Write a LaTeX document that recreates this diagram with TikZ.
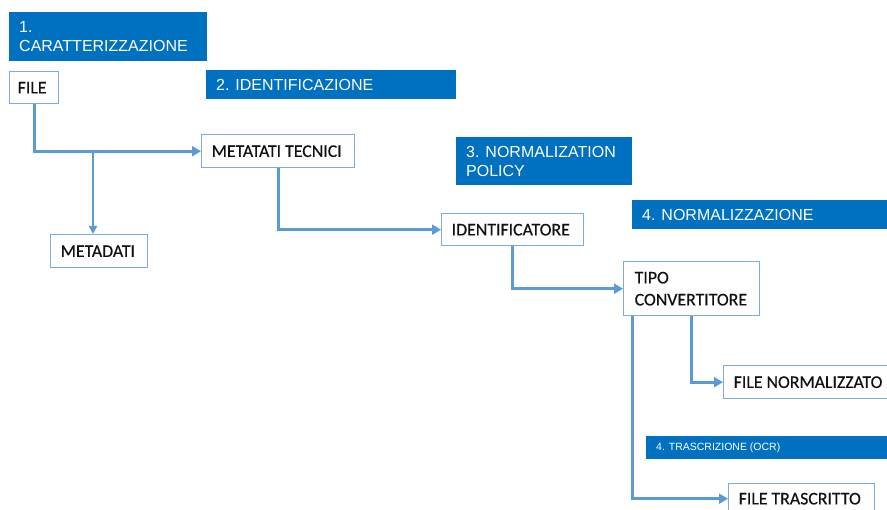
\documentclass[tikz,border=0pt]{standalone}
\usepackage{fontspec}
\setmainfont{Carlito}[FakeBold=0.4]
\newfontfamily\bannerfont{Liberation Sans}
\usetikzlibrary{arrows.meta,calc}
\definecolor{bannerblue}{HTML}{0070C0}
\definecolor{linkblue}{HTML}{5B9BD5}
\definecolor{boxblue}{HTML}{7AAEE0}
\definecolor{inkdark}{HTML}{111111}
\begin{document}
\begin{tikzpicture}[x=1pt,y=-1pt,
  banner/.style={anchor=north west, fill=bannerblue, text=white, inner xsep=10pt, inner ysep=0pt,
    align=flush left, font=\bannerfont\fontsize{16}{19}\selectfont},
  smallbanner/.style={banner, font=\bannerfont\fontsize{10.5}{12}\selectfont},
  stepbox/.style={anchor=north west, draw=boxblue, line width=1.4pt, fill=white, text=inkdark,
    inner xsep=10pt, inner ysep=0pt, align=flush left, font=\fontsize{17.8}{22}\selectfont},
  link/.style={draw=linkblue, line width=3pt, -{Triangle[length=9pt,width=10pt]}},
  thinlink/.style={draw=linkblue, line width=2pt, -{Triangle[length=8pt,width=8pt]}}]
\clip (0,0) rectangle (887,510);
\fill[white] (0,0) rectangle (887,510);

% phase banners
\node[banner, text width=178pt, minimum height=49pt] (b1) at (9,12) {1.\\CARATTERIZZAZIONE};
\node[banner, text width=230pt, minimum height=29pt] (b2) at (206,70) {2. IDENTIFICAZIONE};
\node[banner, text width=156pt, minimum height=48pt] (b3) at (456,137) {3. NORMALIZATION\\POLICY};
\node[banner, text width=235pt, minimum height=29pt] (b4) at (632,200) {4. NORMALIZZAZIONE};
\node[smallbanner, text width=221pt, minimum height=23pt] (b5) at (646,436) {4. TRASCRIZIONE (OCR)};

% process steps
\node[stepbox, minimum height=32pt, inner xsep=8pt, text width=33pt] (file) at (9,71) {FILE};
\node[stepbox, text width=133pt, minimum height=33pt] (mt) at (201,134) {METATATI TECNICI};
\node[stepbox, text width=77pt, minimum height=33pt] (meta) at (50,234) {METADATI};
\node[stepbox, text width=122pt, minimum height=32pt] (ident) at (441,213) {IDENTIFICATORE};
\node[stepbox, text width=114pt, minimum height=54pt, inner xsep=11pt] (tipo) at (623,261) {TIPO\\CONVERTITORE};
\node[stepbox, text width=155pt, minimum height=33pt] (fnorm) at (723,365) {FILE NORMALIZZATO};
\node[stepbox, text width=126pt, minimum height=30pt] (ftras) at (728,483) {FILE TRASCRITTO};

% connectors
\coordinate (br) at (93,151);
\coordinate (tipoleft) at ($(tipo.south west)+(9,0)$);
\draw[link] (file.south) |- (mt.west);
\draw[thinlink] (br) -- (br |- meta.north);
\draw[link] (mt.south) |- (ident.west);
\draw[link] (ident.south) |- (tipo.west);
\draw[link] (tipo.south) |- (fnorm.west);
\draw[link] (tipoleft) |- (ftras.west);
\end{tikzpicture}
\end{document}
